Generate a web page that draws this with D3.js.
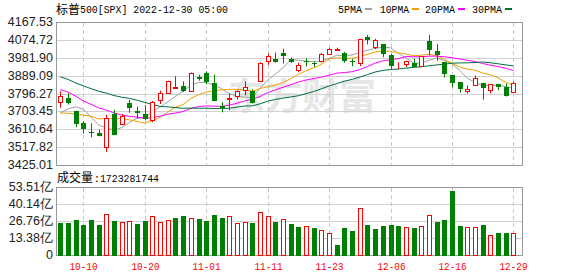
<!DOCTYPE html>
<html>
<head>
<meta charset="utf-8">
<script src="https://cdn.jsdelivr.net/npm/d3@7"></script>
<style>
  body { margin: 0; background: #fff; }
  svg text { font-family: Arial, "Liberation Sans", sans-serif; }
</style>
</head>
<body>
<div id="chart"></div>
<script>
// trading days shown
const dates = ["2022-10-05","2022-10-06","2022-10-07","2022-10-10","2022-10-11","2022-10-12","2022-10-13","2022-10-14","2022-10-17","2022-10-18",
  "2022-10-19","2022-10-20","2022-10-21","2022-10-24","2022-10-25","2022-10-26","2022-10-27","2022-10-28","2022-10-31","2022-11-01",
  "2022-11-02","2022-11-03","2022-11-04","2022-11-07","2022-11-08","2022-11-09","2022-11-10","2022-11-11","2022-11-14","2022-11-15",
  "2022-11-16","2022-11-17","2022-11-18","2022-11-21","2022-11-22","2022-11-23","2022-11-25","2022-11-28","2022-11-29","2022-11-30",
  "2022-12-01","2022-12-02","2022-12-05","2022-12-06","2022-12-07","2022-12-08","2022-12-09","2022-12-12","2022-12-13","2022-12-14",
  "2022-12-15","2022-12-16","2022-12-19","2022-12-20","2022-12-21","2022-12-22","2022-12-23","2022-12-27","2022-12-28","2022-12-29"];

const opens = [3753.25,3771.97,3706.74,3644.79,3595.86,3590.83,3520.37,3690.41,3638.65,3746.26,
  3703.11,3689.05,3657.10,3762.01,3799.44,3825.97,3834.69,3808.26,3881.85,3901.79,
  3852.90,3733.25,3766.98,3780.71,3817.02,3810.94,3859.89,3963.72,3977.97,4006.41,
  3976.82,3919.26,3966.39,3956.23,3965.51,4000.30,4023.34,4005.36,3964.19,3957.18,
  4087.14,4040.17,4052.02,3996.63,3933.28,3947.79,3954.17,3939.29,4069.38,4015.54,
  3958.37,3890.91,3853.79,3810.47,3839.49,3853.26,3815.11,3843.34,3829.56,3805.45];

const highs = [3806.91,3797.93,3706.74,3652.17,3640.66,3608.34,3685.41,3712.00,3689.73,3762.79,
  3728.58,3736.00,3757.89,3810.74,3862.85,3886.15,3859.95,3905.42,3893.73,3911.79,
  3894.44,3750.59,3796.34,3813.95,3859.40,3818.20,3958.33,4001.48,4008.97,4028.84,
  3983.09,3954.33,3979.89,3962.00,4005.88,4033.78,4034.02,4012.27,3976.77,4080.11,
  4100.51,4080.48,4052.45,4001.51,3957.57,3966.65,3977.02,3990.71,4100.96,4053.76,
  3958.37,3890.91,3854.86,3838.24,3889.82,3853.26,3845.80,3846.65,3848.32,3858.19];

const lows = [3722.66,3739.22,3620.73,3588.10,3568.45,3573.86,3491.58,3579.68,3638.65,3696.00,
  3666.51,3656.44,3647.42,3741.65,3799.44,3824.07,3803.79,3808.26,3863.18,3843.80,
  3758.68,3698.15,3708.84,3764.70,3786.28,3744.22,3859.89,3944.82,3956.40,3953.17,
  3954.34,3906.54,3935.98,3933.34,3956.88,3998.66,4020.76,3955.77,3937.65,3938.58,
  4050.87,4026.63,3984.49,3918.39,3922.68,3934.12,3933.04,3935.30,3993.03,3965.65,
  3879.45,3827.91,3800.04,3795.62,3839.49,3764.49,3797.01,3813.22,3780.78,3805.45];

const closes = [3783.28,3744.52,3639.66,3612.39,3588.84,3577.03,3669.91,3583.07,3677.95,3719.98,
  3695.16,3665.78,3752.75,3797.34,3859.11,3830.60,3807.30,3901.06,3871.98,3856.10,
  3759.69,3719.89,3770.55,3806.80,3828.11,3748.57,3956.37,3992.93,3957.25,3991.73,
  3958.79,3946.56,3965.34,3949.94,4003.58,4027.26,4026.12,3963.94,3957.63,4080.11,
  4076.57,4071.70,3998.84,3941.26,3933.92,3963.51,3934.38,3990.56,4019.65,3995.32,
  3895.75,3852.36,3817.66,3821.62,3878.44,3822.39,3844.82,3829.25,3783.22,3849.28];

// closes before the window (needed for the moving averages)
const priorCloses = [4140.77,4199.12,4057.66,4030.61,3986.16,3955.00,3966.85,3924.26,3908.19,3979.87,
  4006.18,4067.36,4110.41,3932.69,3946.01,3901.35,3873.33,3899.89,3855.93,3789.93,
  3757.99,3693.23,3655.04,3647.29,3719.04,3640.47,3585.62,3678.43,3790.93];

// volume, in 亿 (last one exact: 1723281744)
const volumes = [25.3,25.3,27.4,23.5,27.4,23.5,32.1,26.6,25.8,26.6,
  24.5,26.6,30.5,25.8,27.4,29.0,30.5,29.0,28.2,26.6,
  31.6,29.0,30.5,25.1,25.8,25.1,33.7,30.5,25.8,28.2,
  24.5,21.9,22.7,21.1,19.6,17.2,7.8,21.1,18.8,36.8,
  23.5,20.4,22.7,23.5,22.7,21.9,21.1,22.7,31.3,25.8,
  27.4,50.1,22.7,21.9,21.9,23.5,15.7,17.2,17.2,17.23281744];

const priceTicks = ["4167.53","4074.72","3981.90","3889.09","3796.27","3703.45","3610.64","3517.82","3425.01"];
const volTicks = ["53.51亿","40.14亿","26.76亿","13.38亿","0"];
const dateTicks = ["2022-10-10","2022-10-20","2022-11-01","2022-11-11","2022-11-23","2022-12-06","2022-12-16","2022-12-29"];

const maNames = ["5PMA","10PMA","20PMA","30PMA"];
const maPeriods = [5,10,20,30];
const maColors = ["#a0a0a0","#f0a000","#ff00ff","#00703a"];

const W = 578, H = 276;
const UP = "#ff0000", DOWN = "#008000";
const mono = "'Liberation Mono', 'DejaVu Sans Mono', monospace";
const cjk = "'Noto Sans CJK SC', sans-serif";

const svg = d3.select("#chart").append("svg")
  .attr("width", W).attr("height", H);

// scales
const x = d3.scalePoint().domain(dates).range([60.3, 513.4]);
const y = d3.scaleLinear().domain([3425.01, 4167.53]).range([165, 22]);
const yv = d3.scaleLinear().domain([0, 53.51]).range([255, 187]);
const px = d => Math.round(x(d));

// watermark
svg.append("text")
  .attr("x", 228).attr("y", 110)
  .style("font-family", cjk).style("font-size", "37px").style("font-weight", "bold")
  .attr("fill", "#e6e6e6")
  .text("东方财富");

// horizontal grid
svg.append("g").selectAll("line").data(priceTicks).join("line")
  .attr("x1", 56).attr("x2", 522)
  .attr("y1", d => Math.round(y(+d)) + 0.5).attr("y2", d => Math.round(y(+d)) + 0.5)
  .attr("stroke", "#d0d0d0");
svg.append("g").selectAll("line").data(volTicks).join("line")
  .attr("x1", 56).attr("x2", 522)
  .attr("y1", d => Math.round(yv(parseFloat(d))) + 0.5).attr("y2", d => Math.round(yv(parseFloat(d))) + 0.5)
  .attr("stroke", "#d0d0d0");

// vertical dashed grid, both panels
const vg = svg.append("g").attr("stroke", "#c8c8c8").attr("stroke-dasharray", "4,3");
vg.selectAll(".vm").data(dateTicks).join("line").attr("class", "vm")
  .attr("x1", d => px(d) + 0.5).attr("x2", d => px(d) + 0.5)
  .attr("y1", 23).attr("y2", 165);
vg.selectAll(".vv").data(dateTicks).join("line").attr("class", "vv")
  .attr("x1", d => px(d) + 0.5).attr("x2", d => px(d) + 0.5)
  .attr("y1", 188).attr("y2", 255);

// frames
svg.append("rect").attr("x", 56.5).attr("y", 22.5).attr("width", 466).attr("height", 143)
  .attr("fill", "none").attr("stroke", "#999");
svg.append("rect").attr("x", 56.5).attr("y", 187.5).attr("width", 466).attr("height", 68)
  .attr("fill", "none").attr("stroke", "#999");

// moving averages
const allCloses = priorCloses.concat(closes);
maPeriods.forEach((n, k) => {
  const vals = closes.map((c, i) => {
    const j = i + priorCloses.length;
    return d3.mean(allCloses.slice(j - n + 1, j + 1));
  });
  svg.append("path")
    .datum(vals)
    .attr("fill", "none")
    .attr("stroke", maColors[k])
    .attr("stroke-width", 1)
    .attr("d", d3.line().x((d, i) => x(dates[i])).y(d => y(d)));
});

// candles
const candles = svg.append("g").selectAll("g").data(dates).join("g");
candles.each(function(d, i) {
  const g = d3.select(this);
  const up = closes[i] >= opens[i];
  const col = up ? UP : DOWN;
  const cx = px(d);
  g.append("line")
    .attr("x1", cx + 0.5).attr("x2", cx + 0.5)
    .attr("y1", y(highs[i])).attr("y2", y(lows[i]))
    .attr("stroke", col);
  const top = Math.round(y(Math.max(opens[i], closes[i])));
  const bot = Math.round(y(Math.min(opens[i], closes[i])));
  if (up) {
    g.append("rect")
      .attr("x", cx - 1.5).attr("y", top + 0.5)
      .attr("width", 4).attr("height", Math.max(0, bot - top))
      .attr("fill", "#fff").attr("stroke", col);
  } else {
    g.append("rect")
      .attr("x", cx - 2).attr("y", top)
      .attr("width", 5).attr("height", Math.max(1, bot - top))
      .attr("fill", col);
  }
});

// volume bars (colour by close vs previous close)
const bars = svg.append("g").selectAll("g").data(dates).join("g");
bars.each(function(d, i) {
  const prev = i === 0 ? priorCloses[priorCloses.length - 1] : closes[i - 1];
  const up = closes[i] >= prev;
  const cx = px(d);
  const top = Math.round(yv(volumes[i]));
  if (up) {
    d3.select(this).append("rect")
      .attr("x", cx - 1.5).attr("y", top + 0.5)
      .attr("width", 4).attr("height", 255 - top)
      .attr("fill", "#fff").attr("stroke", UP);
  } else {
    d3.select(this).append("rect")
      .attr("x", cx - 2).attr("y", top)
      .attr("width", 5).attr("height", 256 - top)
      .attr("fill", DOWN);
  }
});

// y labels
svg.append("g").selectAll("text").data(priceTicks).join("text")
  .attr("x", 53).attr("y", d => y(+d))
  .attr("text-anchor", "end").attr("dominant-baseline", "central")
  .style("font-size", "12.5px").attr("fill", "#222")
  .text(d => d);
svg.append("g").selectAll("text").data(volTicks).join("text")
  .attr("x", 53).attr("y", d => yv(parseFloat(d)))
  .attr("text-anchor", "end").attr("dominant-baseline", "central")
  .style("font-size", "12.5px").attr("fill", "#222")
  .text(d => d);

// date labels
svg.append("g").selectAll("text").data(dateTicks).join("text")
  .attr("x", d => px(d) + 0.5).attr("y", 269.5)
  .attr("text-anchor", "middle")
  .style("font-family", mono).style("font-size", "11px")
  .attr("textLength", 28).attr("lengthAdjust", "spacingAndGlyphs")
  .attr("fill", UP)
  .text(d => d.slice(5));

// title
svg.append("text").attr("x", 56).attr("y", 13.5)
  .style("font-family", cjk).style("font-size", "12px").attr("fill", "#000")
  .text("标普");
svg.append("text").attr("x", 80).attr("y", 13)
  .style("font-family", mono).style("font-size", "11px").attr("fill", "#000")
  .attr("textLength", 148).attr("lengthAdjust", "spacingAndGlyphs")
  .text("500[SPX] 2022-12-30 05:00");

// legend
const legX = [338, 380, 425, 472];
const legW = [24, 29, 30, 30];
maNames.forEach((name, k) => {
  svg.append("text").attr("x", legX[k]).attr("y", 13)
    .style("font-family", mono).style("font-size", "11px").attr("fill", "#000")
    .attr("textLength", legW[k]).attr("lengthAdjust", "spacingAndGlyphs")
    .text(name);
  svg.append("rect")
    .attr("x", legX[k] + legW[k] + 3).attr("y", 8)
    .attr("width", 7).attr("height", 2)
    .attr("fill", maColors[k]);
});

// volume caption
svg.append("text").attr("x", 57).attr("y", 182)
  .style("font-family", cjk).style("font-size", "12px").attr("fill", "#000")
  .text("成交量");
svg.append("text").attr("x", 94).attr("y", 182)
  .style("font-family", mono).style("font-size", "11px").attr("fill", "#000")
  .attr("textLength", 65).attr("lengthAdjust", "spacingAndGlyphs")
  .text(":" + Math.round(volumes[volumes.length - 1] * 1e8));
</script>
</body>
</html>
